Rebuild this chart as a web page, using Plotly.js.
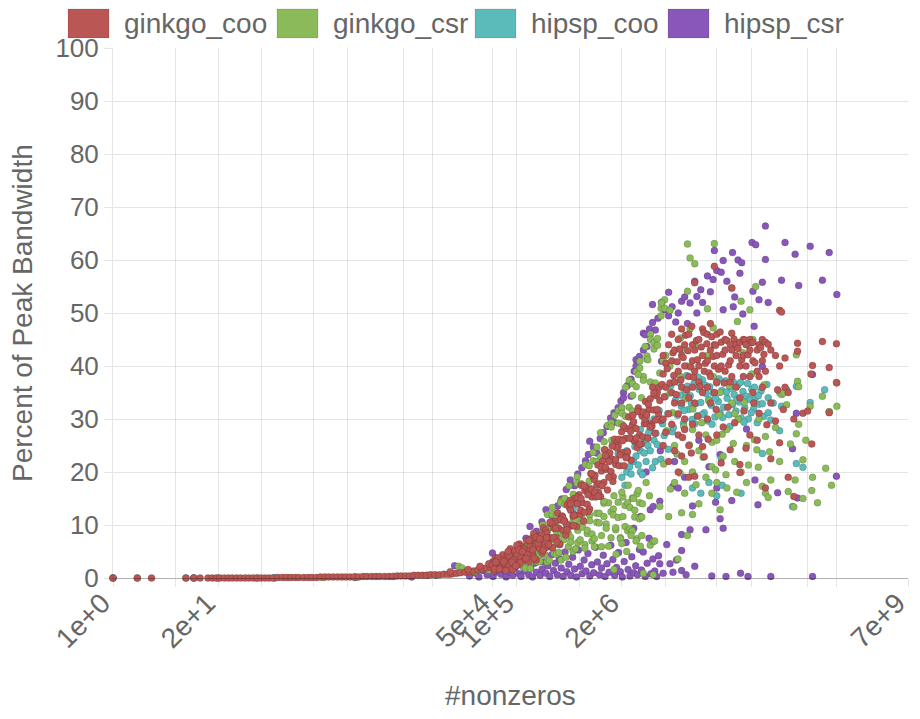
<!DOCTYPE html>
<html>
<head>
<meta charset="utf-8">
<script src="https://cdn.plot.ly/plotly-3.0.1.min.js"></script>
<style>
  html, body { margin: 0; padding: 0; background: #fff; }
  #plot { width: 920px; height: 719px; }
</style>
</head>
<body>
<div id="plot"></div>
<script>
// series names, in legend order
const seriesNames = ["ginkgo_coo", "ginkgo_csr", "hipsp_coo", "hipsp_csr"];
const seriesColors = ["rgb(186,86,84)", "rgb(138,187,88)", "rgb(91,186,186)", "rgb(137,87,186)"];

// x tick values (log axis) and their labels, blank where only a grid line shows
const xTickVals = [1, 6, 20, 70, 300, 800, 4000, 9000, 5e4, 1e5, 6e5, 2e6, 7e6, 3e7, 8e7, 4e8, 9e8, 7e9];
const xTickText = ["1e+0", "", "2e+1", "", "", "", "", "", "5e+4", "1e+5", "", "2e+6", "", "", "", "", "", "7e+9"];
const yTickVals = [0, 10, 20, 30, 40, 50, 60, 70, 80, 90, 100];

// [#nonzeros, percent of peak bandwidth]
const ginkgoCoo = [
  // flat part, small matrices
  [1,0],[2,0],[3,0],[8,0],[10,0],[12,0],[15,0],[17,0],[19,0],[21,0],[24,0],[27,0],[30,0],[34,0],[38,0],
  [43,0],[48,0],[54,0],[61,0],[68,0],[76,0],[85,0],[95,0],[110,0.1],[125,0.1],[140,0.1],[160,0.1],
  [180,0.1],[200,0.1],[230,0.1],[260,0.1],[290,0.1],[330,0.1],[370,0.2],[420,0.2],[470,0.2],[530,0.2],
  [600,0.2],[680,0.2],[760,0.2],[860,0.2],[970,0.2],[1100,0.2],[1250,0.3],[1400,0.3],[1600,0.3],
  [1800,0.3],[2000,0.3],[2300,0.3],[2600,0.3],[2900,0.3],[3300,0.4],[3700,0.4],[4200,0.4],[4700,0.4],
  [5300,0.5],[6000,0.5],[6800,0.5],[7600,0.5],[8600,0.6],[9700,0.6],[11000,0.6],[12500,0.7],[14000,0.7],
  [16000,0.8],[18000,0.9],[20000,1.0],[23000,1.1],[26000,1.2],[29000,1.3],[33000,1.5],[37000,1.7],
  [42000,1.9],[47000,2.1],[15000,1.2],[25000,1.6],[35000,2.2],[45000,2.7],
  // rising band
  [5.0e4,2.5],[5.2e4,1.3],[5.4e4,3.8],[5.6e4,2.0],[5.8e4,3.6],[6.0e4,3.3],[6.2e4,1.8],[6.5e4,2.7],
  [6.7e4,4.4],[7.0e4,2.7],[7.2e4,1.5],[7.5e4,3.7],[7.7e4,4.5],[8.0e4,2.5],[8.3e4,5.5],[8.6e4,3.6],
  [8.9e4,1.6],[9.2e4,4.8],[9.5e4,5.1],[9.8e4,3.2],[1.01e5,4.4],[1.05e5,2.5],[1.08e5,6.4],[1.12e5,3.7],
  [1.16e5,5.9],[1.20e5,5.6],[1.24e5,3.4],[1.28e5,4.7],[1.33e5,7.0],[1.37e5,4.7],[1.42e5,3.1],[1.47e5,6.1],
  [1.52e5,7.2],[1.57e5,4.5],[1.62e5,8.4],[1.68e5,5.9],[1.74e5,3.4],[1.80e5,7.5],[1.86e5,7.8],[1.92e5,5.5],
  [1.99e5,7.0],[2.06e5,4.7],[2.13e5,9.5],[2.20e5,6.2],[2.28e5,9.0],[2.36e5,8.5],[2.44e5,5.9],[2.52e5,7.5],
  [2.61e5,10.3],[2.70e5,7.6],[2.79e5,5.7],[2.89e5,9.4],[2.99e5,10.7],[3.09e5,7.6],[3.20e5,12.3],[3.31e5,9.4],
  [3.42e5,6.3],[3.54e5,11.3],[3.66e5,11.7],[3.79e5,9.0],[3.92e5,10.8],[4.05e5,8.1],[4.19e5,13.8],[4.34e5,9.9],
  [4.49e5,13.3],[4.64e5,12.8],[4.80e5,9.8],[4.97e5,11.7],[5.14e5,15.0],[5.32e5,11.9],[5.50e5,9.7],[5.69e5,14.0],
  [5.89e5,15.7],[6.09e5,12.0],[6.30e5,17.5],[6.52e5,14.2],[6.74e5,10.7],[6.98e5,16.5],[7.22e5,17.1],[7.47e5,13.9],
  [7.72e5,16.1],[7.99e5,13.0],[8.27e5,19.7],[8.55e5,15.3],[8.85e5,19.1],[9.15e5,18.6],[9.47e5,15.3],[9.80e5,17.5],
  [1.01e6,21.3],[1.05e6,17.8],[1.09e6,15.4],[1.12e6,20.2],[1.16e6,22.1],[1.20e6,18.0],[1.24e6,24.2],[1.28e6,20.5],
  [1.33e6,16.6],[1.37e6,23.0],[1.42e6,23.6],[1.47e6,20.1],[1.52e6,22.4],[1.57e6,19.1],[1.63e6,26.2],[1.68e6,21.4],
  [1.74e6,25.5],[1.80e6,24.9],[1.86e6,21.2],[1.93e6,23.6],[1.99e6,27.6],[2.06e6,23.7],[2.13e6,21.2],[2.21e6,26.3],
  [2.28e6,28.2],[2.36e6,23.8],[2.44e6,30.4],[2.53e6,26.4],[2.61e6,22.2],[2.70e6,28.9],[2.80e6,29.5],[2.89e6,25.8],
  [2.99e6,28.2],[3.10e6,24.6],[3.20e6,32.1],[3.31e6,27.0],[3.43e6,31.3],[3.55e6,30.6],[3.67e6,26.6],[3.80e6,29.1],
  [3.93e6,33.3],[4.06e6,29.2],[4.20e6,26.4],[4.35e6,31.8],[4.50e6,33.8],[4.65e6,29.1],[4.81e6,36.0],[4.98e6,31.7],
  [5.15e6,27.3],[5.33e6,34.4],[5.51e6,35.0],[5.70e6,31.0],[5.90e6,33.5],[6.10e6,29.7],
  [5.3e4,1.7],[5.9e4,3.8],[6.6e4,3.3],[7.3e4,1.4],[8.1e4,4.2],[9.0e4,3.4],[1.0e5,6.2],[1.1e5,2.9],
  [1.22e5,5.5],[1.35e5,4.4],[1.5e5,7.4],[1.65e5,3.7],[1.83e5,6.5],[2.02e5,8.1],[2.24e5,5.7],[2.48e5,6.3],
  [2.74e5,10.3],[3.04e5,9.4],[3.37e5,6.5],[3.72e5,11.4],[4.12e5,10.2],[4.56e5,14.6],[5.05e5,9.9],[5.6e5,14.0],
  [6.2e5,12.8],[6.86e5,17.4],[7.6e5,12.5],[8.4e5,16.7],[9.3e5,19.4],[1.03e6,16.2],[1.14e6,17.4],[1.26e6,23.1],
  [1.4e6,22.0],[1.55e6,18.2],[1.71e6,24.6],[1.9e6,23.2],[2.1e6,28.7],[2.32e6,22.8],[2.57e6,27.7],[2.85e6,26.1],
  [3.15e6,31.4],[3.49e6,25.3],[3.86e6,30.0],[4.28e6,32.8],[4.73e6,28.7],[5.24e6,29.8],[5.8e6,36.0],
  [5.5e4,3.0],[6.1e4,1.7],[6.9e4,3.1],[7.8e4,5.0],[8.7e4,3.0],[9.7e4,2.3],[1.07e5,5.3],[1.18e5,5.0],
  [1.3e5,3.7],[1.43e5,7.1],[1.58e5,5.3],[1.74e5,7.7],[1.92e5,7.4],[2.12e5,5.2],[2.34e5,7.6],[2.58e5,10.5],
  [2.85e5,7.6],[3.14e5,6.8],[3.47e5,11.0],[3.83e5,10.7],[4.22e5,9.1],[4.66e5,14.0],[5.14e5,11.8],[5.67e5,15.2],
  [6.26e5,15.0],[6.9e5,12.4],[7.62e5,15.7],[8.41e5,19.7],[9.28e5,16.2],[1.02e6,15.4],[1.13e6,21.0],[1.25e6,20.9],
  [1.38e6,19.0],[1.52e6,24.9],[1.68e6,22.3],[1.85e6,26.2],[2.04e6,25.9],[2.25e6,22.7],[2.49e6,26.4],[2.74e6,30.7],
  [3.03e6,26.4],[3.34e6,25.3],[3.69e6,31.3],[4.07e6,30.8],[4.49e6,28.5],[4.96e6,34.9],[5.47e6,31.8],
  // spread at the large end
  [6.3e6,36.5],[6.5e6,38.5],[6.5e6,30],[6.5e6,25],[6.5e6,42],[6.7e6,34.2],[7e6,36],[7e6,40.5],[7e6,27.5],
  [7.3e6,39.5],[7.6e6,44],[7.6e6,31],[7.6e6,22],[7.9e6,36.8],[8.3e6,35],[8.3e6,41],[8.3e6,29],[8.3e6,46],
  [8.6e6,42.5],[8.8e6,38.2],[9e6,37],[9e6,43],[9e6,33],[9e6,24],[9.4e6,34.6],[9.7e6,40.8],
  [1e7,39],[1e7,45],[1e7,31],[1e7,27],[1e7,20],[1.04e7,43.2],[1.08e7,37.4],
  [1.1e7,36],[1.1e7,42],[1.1e7,47],[1.1e7,33],[1.1e7,23],[1.13e7,26.5],[1.15e7,41.6],
  [1.2e7,40],[1.2e7,44],[1.2e7,30],[1.2e7,28],[1.23e7,45.8],[1.28e7,35.5],[1.32e7,42.9],
  [1.35e7,38],[1.35e7,46],[1.35e7,34],[1.35e7,25],[1.35e7,19],[1.43e7,39.8],[1.45e7,23.6],[1.47e7,47.5],
  [1.5e7,41],[1.5e7,36],[1.5e7,44],[1.5e7,29],[1.55e7,37.9],
  [1.6e7,55.7],[1.6e7,43],[1.6e7,33],[1.6e7,39],[1.6e7,19.2],[1.68e7,44.8],[1.73e7,41.2],[1.75e7,30.5],
  [1.8e7,40],[1.8e7,45],[1.8e7,37],[1.8e7,27],[1.86e7,36.1],[1.93e7,43.6],
  [2e7,42],[2e7,47],[2e7,35],[2e7,24.8],[2.07e7,46.3],[2.1e7,22.9],[2.1e7,39],[2.17e7,40.5],[2.26e7,44.2],
  [2.3e7,41],[2.3e7,46],[2.3e7,36],[2.3e7,30],[2.35e7,26.2],[2.42e7,38.7],
  [2.5e7,43],[2.5e7,38],[2.5e7,48],[2.5e7,33],[2.6e7,45.5],[2.7e7,41.8],
  [2.8e7,58.8],[2.8e7,44],[2.8e7,40],[2.8e7,35],[2.9e7,43.9],[2.95e7,31.8],
  [3e7,42],[3e7,46],[3e7,37],[3e7,27],[3.15e7,39.4],[3.3e7,46.4],
  [3.4e7,21.7],[3.4e7,44.5],[3.4e7,40],[3.55e7,42.2],[3.6e7,28.5],[3.7e7,36.8],[3.8e7,45],[3.8e7,39],[3.8e7,43],
  [4e7,44.8],[4.1e7,32.2],[4.2e7,40.2],[4.4e7,24.2],[4.4e7,44],[4.4e7,41],[4.4e7,37],
  [4.6e7,46.2],[4.6e7,54.7],[4.6e7,43],[4.6e7,38],[4.9e7,45.1],[5e7,29.3],
  [5.2e7,44],[5.2e7,42],[5.2e7,36],[5.5e7,43.3],[5.8e7,44.5],[5.8e7,21.4],[5.8e7,19.9],[5.8e7,40],[5.8e7,34],
  [6.1e7,41.2],[6.4e7,45],[6.4e7,42],[6.4e7,38],[6.5e7,31.5],[6.7e7,44.9],[6.9e7,24.5],[6.9e7,44],[6.9e7,40],
  [7.3e7,42.1],[7.7e7,27],[7.7e7,43],[7.7e7,38],[7.7e7,45],[8e7,44.4],[8.4e7,44.5],[8.4e7,41],[8.4e7,35],
  [8.6e7,33],[8.9e7,40.6],[9.5e7,26],[9.5e7,43],[9.5e7,39],[1e8,31.1],[1e8,44],[1e8,38],[1.05e8,43.5],
  [1.1e8,41],[1.1e8,45],[1.1e8,36],[1.15e8,42.2],[1.2e8,44.5],[1.2e8,17],[1.2e8,39],[1.25e8,28.9],[1.3e8,44.1],
  [1.4e8,22.5],[1.4e8,43],[1.4e8,33],[1.6e8,29.6],[1.6e8,42],[1.7e8,35.5],
  [1.8e8,50.5],[1.8e8,25.5],[1.8e8,40],[1.9e8,50.2],[2e8,31.8],[2.1e8,41.5],[2.1e8,36],[2.3e8,19],[2.3e8,35],
  [2.7e8,15.4],[2.7e8,30],[3e8,44.3],[3e8,42.8],[3.5e8,31.1],[4e8,31.5],[4.4e8,38.5],[4.5e8,25.3],
  [4.6e8,40.1],[6.1e8,44.6],[7.4e8,39.7],[7.4e8,31.2],[9.1e8,44.2],[9.1e8,36.9]
];

const ginkgoCsr = [
  [2,0],[8,0],[20,0],[60,0],[150,0.1],[400,0.1],[1000,0.2],[3000,0.3],[8000,0.5],[15000,0.7],
  [19000,2.2],[21000,1.9],[30000,1.2],[38000,1.8],[45000,1.5],[6e4,2.0],[8e4,2.4],[1e5,2.5],
  [1.1e5,5.0],[1.3e5,6.0],[1.6e5,7.0],[2.0e5,8.0],[2.4e5,9.0],
  // lower band
  [1.2e5,3.1],[1.2e5,2.1],[1.29e5,1.8],[1.29e5,4.3],[1.38e5,4.9],[1.38e5,3.7],[1.47e5,2.9],[1.47e5,1.8],
  [1.58e5,5.0],[1.58e5,4.6],[1.69e5,4.8],[1.69e5,3.7],[1.81e5,3.0],[1.81e5,6.3],[1.93e5,4.3],[1.93e5,3.1],
  [2.07e5,6.6],[2.07e5,5.5],[2.21e5,4.5],[2.21e5,4.4],[2.37e5,3.0],[2.37e5,7.0],[2.53e5,6.0],[2.53e5,3.3],
  [2.71e5,7.3],[2.71e5,5.8],[2.9e5,4.6],[2.9e5,7.2],[3.1e5,8.8],[3.1e5,4.5],[3.32e5,6.3],[3.32e5,4.8],
  [3.55e5,3.4],[3.55e5,8.5],[3.8e5,8.1],[3.8e5,7.2],[4.06e5,8.6],[4.06e5,3.9],[4.35e5,5.9],[4.35e5,8.4],
  [4.65e5,7.7],[4.65e5,6.8],[4.98e5,5.0],[4.98e5,10.7],[5.33e5,10.9],[5.33e5,5.5],[5.7e5,6.7],[5.7e5,9.0],
  [6.1e5,10.2],[6.1e5,7.2],[6.52e5,9.6],[6.52e5,11.1],[6.98e5,6.3],[6.98e5,5.6],[7.47e5,8.4],[7.47e5,9.0],
  [7.99e5,11.9],[7.99e5,10.8],[8.55e5,8.3],[8.55e5,7.0],[9.15e5,5.9],[9.15e5,7.4],[9.79e5,10.5],[9.79e5,12.2],
  [1.05e6,12.2],[1.05e6,10.4],[1.12e6,8.0],[1.12e6,5.9],[1.2e6,14.1],[1.2e6,11.6],[1.28e6,10.2],[1.28e6,9.4],
  [1.37e6,6.0],[1.37e6,14.2],[1.47e6,12.5],[1.47e6,7.6],[1.57e6,13.0],[1.57e6,11.9],[1.68e6,9.1],[1.68e6,9.5],
  [1.8e6,11.4],[1.8e6,14.3],[1.92e6,7.6],[1.92e6,7.4],[2.06e6,15.3],[2.06e6,11.6],[2.2e6,9.7],[2.2e6,13.7],
  [2.36e6,14.2],[2.36e6,8.9],[2.52e6,13.3],[2.52e6,9.3],[2.7e6,8.9],[2.7e6,15.1],[2.89e6,11.5],[2.89e6,12.8],
  [3.09e6,15.9],[3.09e6,7.4],[3.31e6,11.2],[3.31e6,14.2],[3.54e6,8.0],[3.54e6,11.5],
  [2.3e6,5.0],[2.6e6,8.0],[3e6,7.0],[3.4e6,6.0],[3.7e6,0.9],[4.5e6,6.2],[4.9e6,0.6],[4.9e6,6.9],[5.1e6,7.0],
  [1.6e6,1.6],[1.7e6,4.5],[2e6,6.5],
  [1.2e6,14.5],[1.6e6,15.5],[2e6,16.2],[2.4e6,17.5],[2.8e6,15],[3.2e6,16.5],[3.6e6,14],[4e6,18],[4.4e6,15.5],
  // upper band
  [2.1e5,10.0],[2.1e5,9.0],[2.4e5,9.4],[2.4e5,12.0],[2.75e5,13.3],[2.75e5,12.0],[3.1e5,11.8],[3.1e5,10.6],
  [3.5e5,14.5],[3.5e5,14.2],[3.95e5,15.0],[3.95e5,13.9],[4.45e5,13.9],[4.45e5,17.4],[5e5,15.8],[5e5,14.5],
  [5.6e5,19.1],[5.6e5,17.9],[6.3e5,17.8],[6.3e5,17.6],[7.1e5,17.2],[7.1e5,21.4],[7.9e5,21.2],[7.9e5,18.3],
  [8.8e5,23.7],[8.8e5,22.1],[9.8e5,22.0],[9.8e5,24.7],[1.09e6,27.4],[1.09e6,22.9],[1.21e6,25.7],[1.21e6,24.2],
  [1.34e6,23.7],[1.34e6,28.8],[1.48e6,29.3],[1.48e6,28.5],[1.64e6,30.7],[1.64e6,26.0],[1.82e6,29.2],[1.82e6,31.6],
  [2.01e6,32.1],[2.01e6,31.1],[2.23e6,30.5],[2.23e6,36.0],[2.47e6,37.3],[2.47e6,32.2],[2.73e6,34.5],[2.73e6,36.7],
  [3.02e6,38.9],[3.02e6,36.1],[3.34e6,39.6],[3.34e6,40.9],[3.7e6,38.0],[3.7e6,37.3],[4.09e6,41.3],[4.09e6,41.9],
  [4.53e6,46.0],[4.53e6,45.0],[5.01e6,44.4],[5.01e6,43.2],[5.54e6,43.9],[5.54e6,45.2],[6.13e6,49.5],[6.13e6,50.9],
  [6.78e6,52.5],[6.78e6,50.9],[3.9e6,43.7],[4.2e6,41.2],[3.2e6,38.4],[6.2e6,51.9],
  [1.5e6,26],[2e6,29],[2.7e6,31.5],[3.5e6,34],[4.5e6,37],[5.2e6,36.8],[5.9e6,38.7],[6.5e6,41],
  // spread at the large end
  [5.9e6,13.5],[6.6e6,21.5],[7e6,42],[7.2e6,27.8],[7.6e6,11.6],[7.9e6,50.5],[7.9e6,34.9],[7.9e6,40],
  [8e6,16.8],[8.5e6,31.2],[9e6,18],[9e6,25],[9.6e6,23.4],[9.9e6,3.6],[1.05e7,19.8],
  [1.06e7,45.3],[1.06e7,38],[1.1e7,12.3],[1.1e7,43],[1.17e7,28.6],[1.2e7,22],[1.2e7,16],[1.24e7,33.8],
  [1.3e7,63.0],[1.3e7,54.1],[1.3e7,8.0],[1.3e7,40],[1.38e7,25.1],[1.4e7,60.4],[1.4e7,47],
  [1.5e7,12.0],[1.5e7,28],[1.5e7,20],[1.52e7,31.9],[1.6e7,59.3],[1.6e7,44],[1.66e7,17.6],
  [1.8e7,24],[1.8e7,14],[1.95e7,29.3],[2.03e7,22.8],[2.2e7,19],[2.2e7,27],[2.3e7,50.8],[2.3e7,42],
  [2.4e7,33.4],[2.6e7,21],[2.6e7,16],[2.62e7,25.6],[2.7e7,47.2],[2.7e7,38],[2.8e7,63.1],
  [2.9e7,20.4],[3e7,26],[3e7,18],[3.2e7,30.8],[3.3e7,12.9],[3.3e7,35],[3.5e7,27.1],[3.6e7,23],
  [3.9e7,19.5],[4e7,17],[4e7,28],[4.3e7,36.3],[4.6e7,54.7],[4.6e7,33],[4.8e7,25.4],[5e7,22],[5e7,31],
  [5.3e7,16.2],[5.4e7,48.4],[5.5e7,29.9],[6e7,52.2],[6e7,20],[6.3e7,42.5],[6.6e7,33.1],[7e7,18],[7e7,25],
  [7.4e7,21.3],[7.7e7,50.6],[8.1e7,38.5],[8.4e7,45],[8.8e7,26.1],[9.1e7,55],[9.4e7,24.2],[9.8e7,20.9],
  [1e8,30],[1.1e8,17.3],[1.15e8,36.4],[1.2e8,26.7],[1.2e8,16],[1.3e8,15.2],[1.35e8,23.8],[1.4e8,18.5],
  [1.6e8,28.4],[1.8e8,22],[1.9e8,34.6],[2e8,34.9],[2.2e8,32.7],[2.3e8,16.3],[2.45e8,25.3],[2.7e8,13.4],
  [2.8e8,18.5],[2.9e8,42.1],[2.9e8,27.2],[3e8,37.1],[3.1e8,29],[3.1e8,36.1],[3.5e8,22.3],[3.5e8,15],
  [3.8e8,26],[4.3e8,32.4],[4.5e8,16.5],[4.6e8,19],[5.3e8,14.2],[6.1e8,34.3],[6.7e8,20.7],[7.4e8,31.3],
  [7.4e8,31.4],[7.9e8,17.5],[9.2e8,32.4],[9.2e8,36.8]
];

const hipspCoo = [
  [1,0],[10,0],[100,0.1],[1000,0.2],[1e4,0.5],[3e4,1.2],
  [1e5,3.8],[2e5,7.2],[3e5,9.5],[5e5,13],[8e5,17],[1.2e6,20.5],[1.8e6,23.5],
  [2e6,19],[2.3e6,20],[2.3e6,24],[2.5e6,21],[2.8e6,22],[2.8e6,26],[3e6,23],
  [3.4e6,24],[3.4e6,28],[3.4e6,20],[3.6e6,19.5],[4e6,26],[4e6,30],[4e6,22],[4.2e6,25],
  [4.5e6,28],[4.5e6,24],[5e6,30],[5e6,26],[5.2e6,22],
  [2.2e6,17.5],[2.6e6,19.6],[2.9e6,24.8],[3.2e6,21.3],[3.8e6,23.6],[4.3e6,27.4],[4.8e6,20.8],[5.5e6,25.2],
  [6.1e6,22.4],[6.7e6,26.9],[7.5e6,24.3],[8.4e6,27.6],
  // main cluster
  [5.3e6,27.3],[5.8e6,31.6],[6.4e6,29.1],[6.9e6,34.2],[7.4e6,31.0],[8.1e6,36.3],[8.7e6,28.4],[9.2e6,33.5],
  [9.8e6,30.7],[1.03e7,36.9],[1.09e7,32.4],[1.16e7,29.2],[1.21e7,35.1],[1.27e7,38.2],[1.34e7,31.8],
  [1.41e7,34.4],[1.48e7,29.9],[1.57e7,36.7],[1.64e7,32.9],[1.72e7,30.6],[1.81e7,35.6],[1.9e7,33.1],
  [1.99e7,37.4],[2.1e7,31.2],[2.21e7,34.8],[2.33e7,29.6],[2.45e7,36.1],[2.57e7,32.6],[2.7e7,34.9],
  [2.84e7,30.4],[2.99e7,36.8],[3.14e7,33.3],[3.3e7,31.1],[3.47e7,35.4],[3.65e7,32.2],[3.84e7,37.2],
  [4.03e7,33.9],[4.24e7,30.8],[4.46e7,35.8],[4.69e7,32.7],[4.93e7,34.6],[5.18e7,31.5],[5.45e7,36.4],
  [5.73e7,33.2],[6.02e7,30.2],[6.33e7,35.2],[6.66e7,32.1],[7e7,34.3],[7.36e7,30.0],[7.74e7,33.7],
  [8.14e7,35.6],[8.56e7,31.9],[9e7,34.0],[9.5e7,29.3],[1.0e8,32.8],[1.06e8,35.3],
  [1.06e7,34.5],[1.18e7,31.6],[1.3e7,36.2],[1.45e7,33.0],[1.6e7,29.1],[1.77e7,37.9],[1.95e7,30.8],
  [2.15e7,36.4],[2.38e7,33.7],[2.62e7,29.0],[2.9e7,33.9],[3.2e7,37.6],[3.55e7,30.3],[3.95e7,35.1],
  [4.35e7,28.6],[4.8e7,37.0],[5.3e7,33.6],[5.9e7,36.9],[6.5e7,29.4],[7.2e7,36.7],[8e7,31.2],[8.8e7,36.0],
  [9.8e7,34.4],[1.15e8,30.5],[1.25e8,36.5],[1.4e8,29.8],
  [1.5e7,17],[1.9e7,16],[2.4e7,18],[3e7,15.5],[3.5e7,17.5],[3.4e7,22.6],[6e7,16],
  [1.1e8,32.9],[1.1e8,23.5],[1.3e8,31.2],[1.3e8,34],[1.5e8,33],[1.8e8,27.8],[1.8e8,35],
  [1.9e8,32.4],[2.2e8,35.5],[2.6e8,13.5],[2.9e8,36.2],[2.9e8,21.6],[3.5e8,20.9],[4.3e8,33.1],[6.5e8,35.5]
];

const hipspCsr = [
  [1,0],[10,0],[100,0],[1000,0.1],[5000,0.2],[17000,2.3],[50000,3.0],[5e4,4.7],
  // near-zero cloud
  [2.6e4,0.4],[3.1e4,0.9],[3.4e4,0.2],[3.8e4,1.4],[4.3e4,0.6],[4.6e4,1.9],[5.1e4,0.3],[5.5e4,1.1],
  [5.9e4,2.3],[6.4e4,0.7],[6.9e4,1.6],[7.4e4,0.2],[7.9e4,2.7],[8.4e4,1.0],[8.9e4,0.5],[9.5e4,1.9],
  [1.01e5,3.1],[1.07e5,0.8],[1.13e5,0.3],[1.19e5,2.2],[1.26e5,1.3],[1.33e5,3.6],[1.41e5,0.6],[1.49e5,1.9],
  [1.57e5,0.2],[1.66e5,2.8],[1.75e5,1.1],[1.85e5,4.1],[1.95e5,0.5],[2.06e5,1.7],[2.18e5,3.0],[2.3e5,0.9],
  [2.43e5,2.3],[2.56e5,0.3],[2.7e5,4.4],[2.85e5,1.4],[3.01e5,2.8],[3.18e5,0.6],[3.36e5,3.7],[3.55e5,1.9],
  [3.75e5,0.3],[3.96e5,4.9],[4.18e5,1.2],[4.41e5,2.6],[4.66e5,0.5],[4.92e5,3.9],[5.2e5,1.7],[5.49e5,0.2],
  [5.8e5,5.3],[6.12e5,2.2],[6.46e5,0.8],[6.82e5,3.4],[7.2e5,1.3],[7.61e5,4.6],[8.03e5,0.4],[8.48e5,2.5],
  [8.96e5,1.0],[9.46e5,5.8],[9.99e5,3.0],[1.06e6,0.6],[1.12e6,1.9],[1.18e6,4.3],[1.24e6,0.3],[1.31e6,2.7],
  [1.39e6,1.1],[1.46e6,6.2],[1.55e6,3.5],[1.63e6,0.5],[1.72e6,2.0],[1.82e6,4.8],[1.92e6,1.2],[2.03e6,0.2],
  [2.14e6,3.1],[2.26e6,6.7],[2.39e6,1.6],[2.52e6,0.4],[2.66e6,4.0],[2.81e6,9.4],[2.81e6,1.0],[2.97e6,2.3],
  [3.13e6,0.6],[3.31e6,5.4],[3.4e6,11.6],[3.5e6,1.5],[3.69e6,4.9],[3.9e6,0.3],[4.12e6,2.8],[4.35e6,7.5],
  [4.5e6,12.9],[4.59e6,0.8],[4.85e6,3.6],[4.9e6,13.5],[5.12e6,1.3],[5.4e6,0.3],[5.7e6,4.2],[5.9e6,2.7],
  [5.9e6,14.5],[6.5e6,0.9],[7.2e6,6.3],[7.9e6,2.7],[8.6e6,1.1],[8.6e6,17.3],[9.5e6,3.4],[1.1e7,8.2],
  [1.1e7,5.2],[1.1e7,1.4],[1.25e7,0.6],[1.4e7,9.1],[1.6e7,2.2],
  // upper band
  [1.3e5,7.5],[1.46e5,9.7],[1.75e5,8.8],[2.05e5,10.6],[2.3e5,12.9],[2.7e5,11.8],[3.2e5,13.6],[3.6e5,14.9],
  [4.1e5,16.7],[4.6e5,18.5],[5.2e5,17.4],[5.7e5,19.6],[6.4e5,20.8],[7.1e5,22.1],[7.7e5,23.3],[8e5,25.8],
  [8.9e5,24.7],[9.8e5,23.6],[1.08e6,26.3],[1.18e6,27.4],[1.31e6,28.6],[1.45e6,30.2],[1.6e6,29.4],[1.6e6,31.2],
  [1.8e6,32.1],[1.95e6,33.4],[2.1e6,35.0],[2.1e6,34.0],[2.35e6,36.3],[2.6e6,34.3],[2.6e6,37.5],[2.85e6,39.0],
  [3.0e6,41.2],[3.0e6,40.0],[3.3e6,41.8],[3.7e6,46.2],[3.7e6,43.0],[3.9e6,45.9],[4.1e6,43.7],[4.4e6,47.0],
  [4.8e6,51.6],[4.8e6,48.2],[5.2e6,46.8],[5.6e6,49.0],[6.2e6,40.9],[6.2e6,52.0],[6.8e6,50.6],
  [7.6e6,53.9],[7.6e6,49.5],[8.4e6,51.2],[9.3e6,48.3],
  // spread at the large end
  [4e6,20],[6e6,24],[9e6,22],[1e7,17],[1e7,50],[1.1e7,52.2],[1.2e7,53],[1.2e7,19],[1.3e7,48],
  [1.4e7,51.9],[1.5e7,13.6],[1.6e7,56],[1.7e7,53.1],[1.7e7,50],[1.8e7,26],[1.9e7,54.4],[2e7,52],
  [2.2e7,9.1],[2.3e7,57],[2.4e7,21],[2.5e7,54],[2.6e7,0.4],[2.7e7,56.3],[2.8e7,61.8],[2.9e7,14.3],
  [3e7,58],[3e7,17],[3.3e7,23.3],[3.3e7,11.2],[3.4e7,57.7],[3.6e7,9.4],[3.6e7,59.9],[3.6e7,50.6],
  [3.9e7,0.3],[4e7,56],[4.6e7,14.6],[4.7e7,61.4],[4.8e7,51.2],[5e7,53],[5.5e7,60],[5.8e7,57.5],
  [5.9e7,0.9],[6.1e7,59.5],[6.3e7,49.8],[7e7,28.1],[7.3e7,0.3],[8.2e7,63.3],[8.4e7,54.1],[8.7e7,47.5],
  [8.9e7,18.5],[9.1e7,62.9],[9.7e7,13.8],[1e8,52.5],[1.1e8,55.8],[1.1e8,39.9],[1.2e8,66.4],[1.2e8,60.1],
  [1.3e8,52],[1.4e8,0.3],[1.7e8,16.1],[1.9e8,56.2],[2.1e8,63.3],[2.6e8,24.4],[2.8e8,61.1],[2.9e8,31.1],
  [3e8,15.1],[3.1e8,55.2],[4.3e8,62.6],[4.6e8,38.4],[4.6e8,0.3],[6.1e8,56.2],[7.4e8,61.4],[9.1e8,19.2],[9.2e8,53.5]
];

const seriesData = [ginkgoCoo, ginkgoCsr, hipspCoo, hipspCsr];

// plot area in page pixels
const PLOT_L = 113, PLOT_R = 908, PLOT_T = 48, PLOT_B = 578;
const FONT = "Liberation Sans, Arial, Helvetica, sans-serif";
const TEXT_COLOR = "#666";
const GRID = "rgba(0,0,0,0.1)";

function paperX(px) { return (px - PLOT_L) / (PLOT_R - PLOT_L); }
function paperY(py) { return (PLOT_B - py) / (PLOT_B - PLOT_T); }

// chart.js draws the first dataset on top, so add traces in reverse
const traces = [];
for (let i = seriesNames.length - 1; i >= 0; i--) {
    traces.push({
        type: "scatter",
        mode: "markers",
        name: seriesNames[i],
        x: seriesData[i].map(p => p[0]),
        y: seriesData[i].map(p => p[1]),
        cliponaxis: false,
        showlegend: false,
        marker: {
            size: 7,
            color: seriesColors[i],
            line: { width: 1, color: "rgba(0,0,0,0.15)" }
        },
        hoverinfo: "x+y+name"
    });
}

// legend drawn by hand: chart.js style boxes 40 x 28
const legendBoxX = [68, 277, 475, 668];
const shapes = [];
const annotations = [];
seriesNames.forEach((name, i) => {
    shapes.push({
        type: "rect", xref: "paper", yref: "paper",
        x0: paperX(legendBoxX[i]), x1: paperX(legendBoxX[i] + 41),
        y0: paperY(38), y1: paperY(9),
        fillcolor: seriesColors[i],
        line: { width: 1, color: "rgba(0,0,0,0.1)" }
    });
    annotations.push({
        xref: "paper", yref: "paper",
        x: paperX(legendBoxX[i] + 54), y: paperY(23.5),
        xanchor: "left", yanchor: "middle",
        text: name, showarrow: false,
        font: { family: FONT, size: 28, color: TEXT_COLOR }
    });
});

// x tick labels as rotated text hung under each tick (chart.js sits them closer than plotly does)
xTickVals.forEach((v, i) => {
    if (!xTickText[i]) return;
    annotations.push({
        xref: "x", yref: "paper",
        x: Math.log10(v), y: paperY(584),
        xanchor: "right", yanchor: "top", xshift: 6,
        textangle: -45, showarrow: false,
        text: xTickText[i],
        font: { family: FONT, size: 28, color: TEXT_COLOR }
    });
});

// axis titles
annotations.push({
    xref: "paper", yref: "paper", x: 0.5, y: paperY(695),
    xanchor: "center", yanchor: "middle", showarrow: false,
    text: "#nonzeros", font: { family: FONT, size: 28, color: TEXT_COLOR }
});
annotations.push({
    xref: "paper", yref: "paper", x: paperX(22), y: 0.5,
    xanchor: "center", yanchor: "middle", showarrow: false, textangle: -90,
    text: "Percent of Peak Bandwidth", font: { family: FONT, size: 28, color: TEXT_COLOR }
});

const layout = {
    width: 920,
    height: 719,
    margin: { l: PLOT_L, r: 920 - PLOT_R, t: PLOT_T, b: 719 - PLOT_B, pad: 0 },
    paper_bgcolor: "#fff",
    plot_bgcolor: "#fff",
    showlegend: false,
    font: { family: FONT, color: TEXT_COLOR },
    xaxis: {
        type: "log",
        range: [0, Math.log10(7e9)],
        tickvals: xTickVals,
        showticklabels: false,
        ticks: "outside", ticklen: 8, tickcolor: GRID,
        showgrid: true, gridcolor: GRID,
        showline: true, linecolor: "rgba(0,0,0,0.3)",
        zeroline: false, automargin: false
    },
    yaxis: {
        range: [0, 100],
        tickvals: yTickVals,
        tickfont: { family: FONT, size: 26, color: TEXT_COLOR },
        ticks: "outside", ticklen: 8, tickcolor: GRID,
        showgrid: true, gridcolor: GRID,
        showline: true, linecolor: GRID,
        zeroline: false, automargin: false
    },
    shapes: shapes,
    annotations: annotations
};

Plotly.newPlot("plot", traces, layout, { displayModeBar: false, staticPlot: true });
</script>
</body>
</html>
